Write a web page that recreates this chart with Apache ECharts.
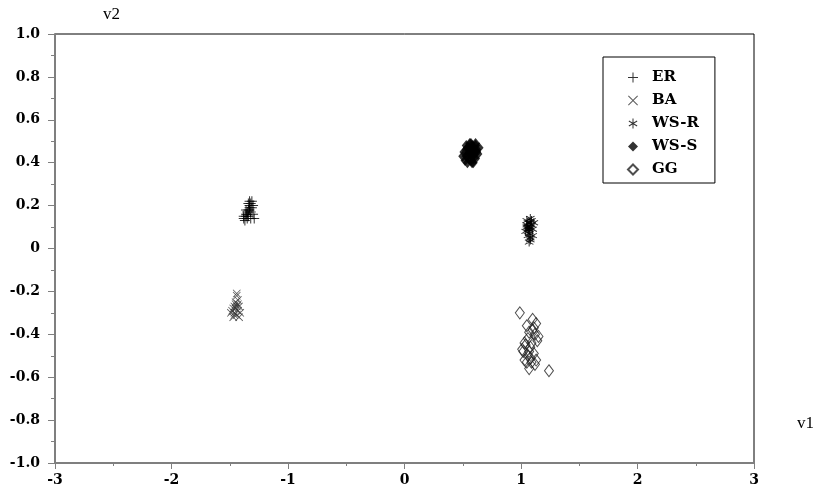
<!DOCTYPE html>
<html>
<head>
<meta charset="utf-8">
<script src="https://cdn.jsdelivr.net/npm/echarts@6/dist/echarts.min.js"></script>
<style>
  html, body { margin: 0; padding: 0; background: #fff; }
</style>
</head>
<body>
<div id="main" style="width: 830px; height: 500px;"></div>
<script>
// 坐标轴刻度
const xTicks = [-3, -2, -1, 0, 1, 2, 3]
const yTicks = [-1.0, -0.8, -0.6, -0.4, -0.2, 0, 0.2, 0.4, 0.6, 0.8, 1.0]

// ER (+)
const erX = [-1.38, -1.36, -1.35, -1.34, -1.33, -1.32, -1.31, -1.30, -1.37, -1.35, -1.33, -1.32, -1.34, -1.36, -1.31, -1.33, -1.35, -1.30, -1.38, -1.32, -1.34, -1.29, -1.36, -1.33]
const erY = [0.14, 0.15, 0.17, 0.18, 0.20, 0.21, 0.22, 0.20, 0.13, 0.16, 0.19, 0.17, 0.15, 0.18, 0.19, 0.22, 0.14, 0.16, 0.15, 0.14, 0.21, 0.14, 0.16, 0.18]

// BA (x)
const baX = [-1.47, -1.45, -1.44, -1.43, -1.46, -1.48, -1.42, -1.44, -1.45, -1.41, -1.47, -1.43, -1.44, -1.46, -1.42, -1.45, -1.49, -1.43, -1.44, -1.46]
const baY = [-0.28, -0.26, -0.22, -0.24, -0.30, -0.29, -0.27, -0.31, -0.25, -0.30, -0.32, -0.29, -0.27, -0.31, -0.32, -0.28, -0.30, -0.26, -0.21, -0.27]

// WS-R (*)
const wsrX = [1.05, 1.07, 1.08, 1.06, 1.09, 1.10, 1.04, 1.07, 1.08, 1.06, 1.05, 1.09, 1.07, 1.11, 1.06, 1.08, 1.07, 1.05, 1.10, 1.08, 1.06, 1.07]
const wsrY = [0.13, 0.12, 0.14, 0.10, 0.11, 0.09, 0.08, 0.07, 0.05, 0.06, 0.11, 0.13, 0.03, 0.12, 0.09, 0.10, 0.08, 0.10, 0.06, 0.04, 0.12, 0.09]

// WS-S (filled diamond)
const wssX = [0.52, 0.54, 0.57, 0.59, 0.61, 0.63, 0.53, 0.55, 0.58, 0.60, 0.62, 0.51, 0.54, 0.56, 0.59, 0.61, 0.53, 0.56, 0.58, 0.60, 0.50, 0.55, 0.57, 0.59, 0.64, 0.56, 0.58, 0.61, 0.53, 0.57, 0.55, 0.62]
const wssY = [0.41, 0.40, 0.41, 0.40, 0.42, 0.44, 0.43, 0.44, 0.43, 0.44, 0.46, 0.45, 0.47, 0.46, 0.47, 0.48, 0.48, 0.49, 0.48, 0.46, 0.43, 0.42, 0.49, 0.42, 0.47, 0.45, 0.40, 0.49, 0.46, 0.44, 0.47, 0.45]

// GG (hollow diamond)
const ggX = [0.99, 1.05, 1.10, 1.12, 1.03, 1.07, 1.14, 1.08, 1.02, 1.06, 1.11, 1.09, 1.04, 1.13, 1.07, 1.01, 1.10, 1.06, 1.15, 1.08, 1.24, 1.05, 1.12, 1.09, 1.03, 1.07, 1.11, 1.13]
const ggY = [-0.30, -0.36, -0.33, -0.40, -0.44, -0.39, -0.43, -0.46, -0.48, -0.50, -0.49, -0.53, -0.45, -0.52, -0.56, -0.47, -0.38, -0.42, -0.41, -0.51, -0.57, -0.53, -0.54, -0.44, -0.52, -0.48, -0.37, -0.35]

const zip = (xs, ys) => xs.map((x, i) => [x, ys[i]])

// 符号
const plusPath = 'path://M4.5,0H5.5V4.5H10V5.5H5.5V10H4.5V5.5H0V4.5H4.5Z'
const crossPath = 'path://M0.7,0L5,4.3L9.3,0L10,0.7L5.7,5L10,9.3L9.3,10L5,5.7L0.7,10L0,9.3L4.3,5L0,0.7Z'
const starPath = 'path://M4.5,0H5.5V3.9L8.9,2L9.4,2.9L6,4.9V5.1L9.4,7.1L8.9,8L5.5,6.1V10H4.5V6.1L1.1,8L0.6,7.1L4,5.1V4.9L0.6,2.9L1.1,2L4.5,3.9Z'

const serif = '"Liberation Serif", "DejaVu Serif", serif'
const boldSerif = '"DejaVu Serif", "Liberation Serif", serif'

const chart = echarts.init(document.getElementById('main'))

const option = {
  animation: false,
  backgroundColor: '#fff',
  grid: {
    left: 55,
    right: 76,
    top: 34,
    bottom: 37,
    show: true,
    borderColor: '#000',
    borderWidth: 1,
  },
  legend: {
    orient: 'vertical',
    left: 603,
    top: 57,
    padding: [12, 16, 5, 24],
    itemGap: 6,
    itemWidth: 10,
    itemHeight: 10,
    borderColor: '#000',
    borderWidth: 1,
    backgroundColor: '#fff',
    textStyle: {
      fontFamily: boldSerif,
      fontWeight: 'bold',
      fontSize: 15,
      lineHeight: 17,
      color: '#000',
      padding: [0, 0, 0, 9],
    },
    data: ['ER', 'BA', 'WS-R', 'WS-S', 'GG'],
  },
  xAxis: {
    type: 'value',
    min: -3,
    max: 3,
    interval: 1,
    axisLine: { onZero: false, lineStyle: { color: '#7f7f7f', width: 2 } },
    axisTick: { length: 6, lineStyle: { color: '#7f7f7f', width: 1 } },
    minorTick: { show: true, splitNumber: 2, length: 3, lineStyle: { color: '#7f7f7f' } },
    splitLine: { show: false },
    axisLabel: {
      margin: 10,
      fontFamily: boldSerif,
      fontWeight: 'bold',
      fontSize: 14,
      color: '#000',
      customValues: xTicks,
      formatter: v => String(Math.round(v)),
    },
  },
  yAxis: {
    type: 'value',
    min: -1,
    max: 1,
    interval: 0.2,
    axisLine: { onZero: false, lineStyle: { color: '#7f7f7f', width: 2 } },
    axisTick: { length: 7, lineStyle: { color: '#7f7f7f', width: 1 } },
    minorTick: { show: true, splitNumber: 2, length: 4, lineStyle: { color: '#7f7f7f' } },
    splitLine: { show: false },
    axisLabel: {
      margin: 15,
      fontFamily: boldSerif,
      fontWeight: 'bold',
      fontSize: 14,
      color: '#000',
      customValues: yTicks,
      formatter: v => (Math.abs(v) < 1e-9 ? '0' : v.toFixed(1)),
    },
  },
  graphic: [
    { type: 'text', left: 103, top: 6, style: { text: 'v2', font: '17px ' + serif, fill: '#000' } },
    { type: 'text', left: 797, top: 415, style: { text: 'v1', font: '17px ' + serif, fill: '#000' } },
  ],
  series: [
    {
      name: 'ER',
      type: 'scatter',
      symbol: plusPath,
      symbolSize: 10,
      itemStyle: { color: '#000' },
      data: zip(erX, erY),
    },
    {
      name: 'BA',
      type: 'scatter',
      symbol: crossPath,
      symbolSize: 8,
      itemStyle: { color: '#333' },
      data: zip(baX, baY),
    },
    {
      name: 'WS-R',
      type: 'scatter',
      symbol: starPath,
      symbolSize: 9,
      itemStyle: { color: '#000' },
      data: zip(wsrX, wsrY),
    },
    {
      name: 'WS-S',
      type: 'scatter',
      symbol: 'diamond',
      symbolSize: [9, 11],
      itemStyle: { color: '#000' },
      data: zip(wssX, wssY),
    },
    {
      name: 'GG',
      type: 'scatter',
      symbol: 'diamond',
      symbolSize: [9, 12],
      itemStyle: { color: 'rgba(255,255,255,0)', borderColor: '#222', borderWidth: 1 },
      data: zip(ggX, ggY),
    },
  ],
}

option && chart.setOption(option)
</script>
</body>
</html>
